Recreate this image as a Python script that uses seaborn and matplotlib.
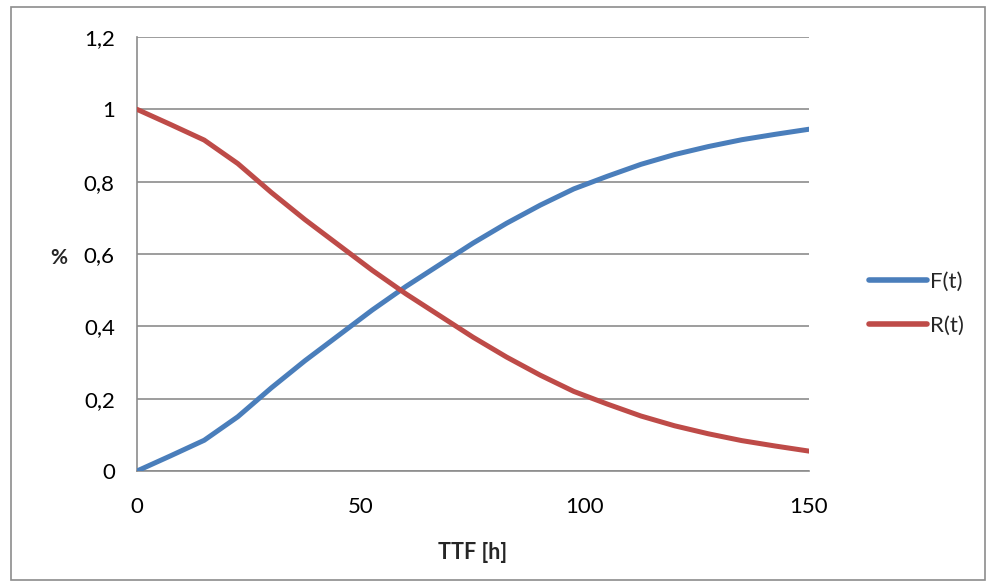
import numpy as np
import pandas as pd
import matplotlib
matplotlib.use("Agg")
import matplotlib.pyplot as plt
import seaborn as sns
from matplotlib.patches import Rectangle

# Data
t_vals = [0, 7.5, 15, 22.5, 30, 37.5, 45, 52.5, 60, 67.5, 75, 82.5, 90, 97.5,
          105, 112.5, 120, 127.5, 135, 142.5, 150]
F_vals = [0, 0.042, 0.085, 0.15, 0.23, 0.305, 0.375, 0.445, 0.51, 0.57, 0.63,
          0.685, 0.735, 0.78, 0.815, 0.848, 0.875, 0.897, 0.916, 0.931, 0.945]
R_vals = [1, 0.958, 0.915, 0.85, 0.77, 0.695, 0.625, 0.555, 0.49, 0.43, 0.37,
          0.315, 0.265, 0.22, 0.185, 0.152, 0.125, 0.103, 0.084, 0.069, 0.055]
series_names = ["F(t)", "R(t)"]
x_ticks = [0, 50, 100, 150]
y_ticks = [0, 0.2, 0.4, 0.6, 0.8, 1.0, 1.2]
y_tick_labels = ["0", "0,2", "0,4", "0,6", "0,8", "1", "1,2"]

df = pd.DataFrame({
    "t": t_vals * 2,
    "value": F_vals + R_vals,
    "series": [series_names[0]] * len(t_vals) + [series_names[1]] * len(t_vals),
})

sns.set_theme(style="white")
plt.rcParams["font.family"] = ["Lato", "DejaVu Sans"]

fig = plt.figure(figsize=(9.94, 5.87), dpi=100)
ax = fig.add_axes([137 / 994, 1 - 471 / 587, (809 - 137) / 994, (471 - 37) / 587])

# chart-area border
fig.patches.append(Rectangle((11 / 994, 7 / 587), (985 - 11) / 994, (580 - 7) / 587,
                             transform=fig.transFigure, fill=False,
                             edgecolor="#8c8c8c", linewidth=1.2))

palette = {"F(t)": "#4A7EBB", "R(t)": "#BE4B48"}
sns.lineplot(data=df, x="t", y="value", hue="series", palette=palette,
             linewidth=3.6, ax=ax, legend=True, zorder=3)
for ln in ax.get_lines():
    ln.set_solid_joinstyle("round")
    ln.set_solid_capstyle("round")

ax.set_xlim(0, 150)
ax.set_ylim(0, 1.2)
ax.set_xticks(x_ticks)
ax.set_xticklabels([str(v) for v in x_ticks])
ax.set_yticks(y_ticks)
ax.set_yticklabels(y_tick_labels)

ax.grid(axis="y", color="#8c8c8c", linewidth=1.2)
ax.grid(axis="x", visible=False)
for side in ["top", "right"]:
    ax.spines[side].set_visible(False)
for side in ["left", "bottom"]:
    ax.spines[side].set_color("#8c8c8c")
    ax.spines[side].set_linewidth(1.2)

ax.tick_params(axis="both", which="both", direction="out", length=6, width=1.2,
               color="#8c8c8c", labelsize=16, labelcolor="black")
ax.tick_params(axis="x", pad=13)
ax.tick_params(axis="y", pad=10)

ax.set_xlabel("TTF [h]", fontsize=15.5, fontweight="bold", labelpad=18)
ax.set_ylabel("%", fontsize=15, fontweight="bold", rotation=0, labelpad=0,
              va="center", ha="center")
ax.yaxis.set_label_coords(-0.117, 0.49)

leg = ax.legend(loc="center left", bbox_to_anchor=(1.06, 0.385), frameon=False,
                fontsize=16, handlelength=2.6, handletextpad=0.15, labelspacing=1.1)
for line in leg.get_lines():
    line.set_linewidth(4)
    line.set_solid_capstyle("round")

fig.savefig("out.png", dpi=100)
